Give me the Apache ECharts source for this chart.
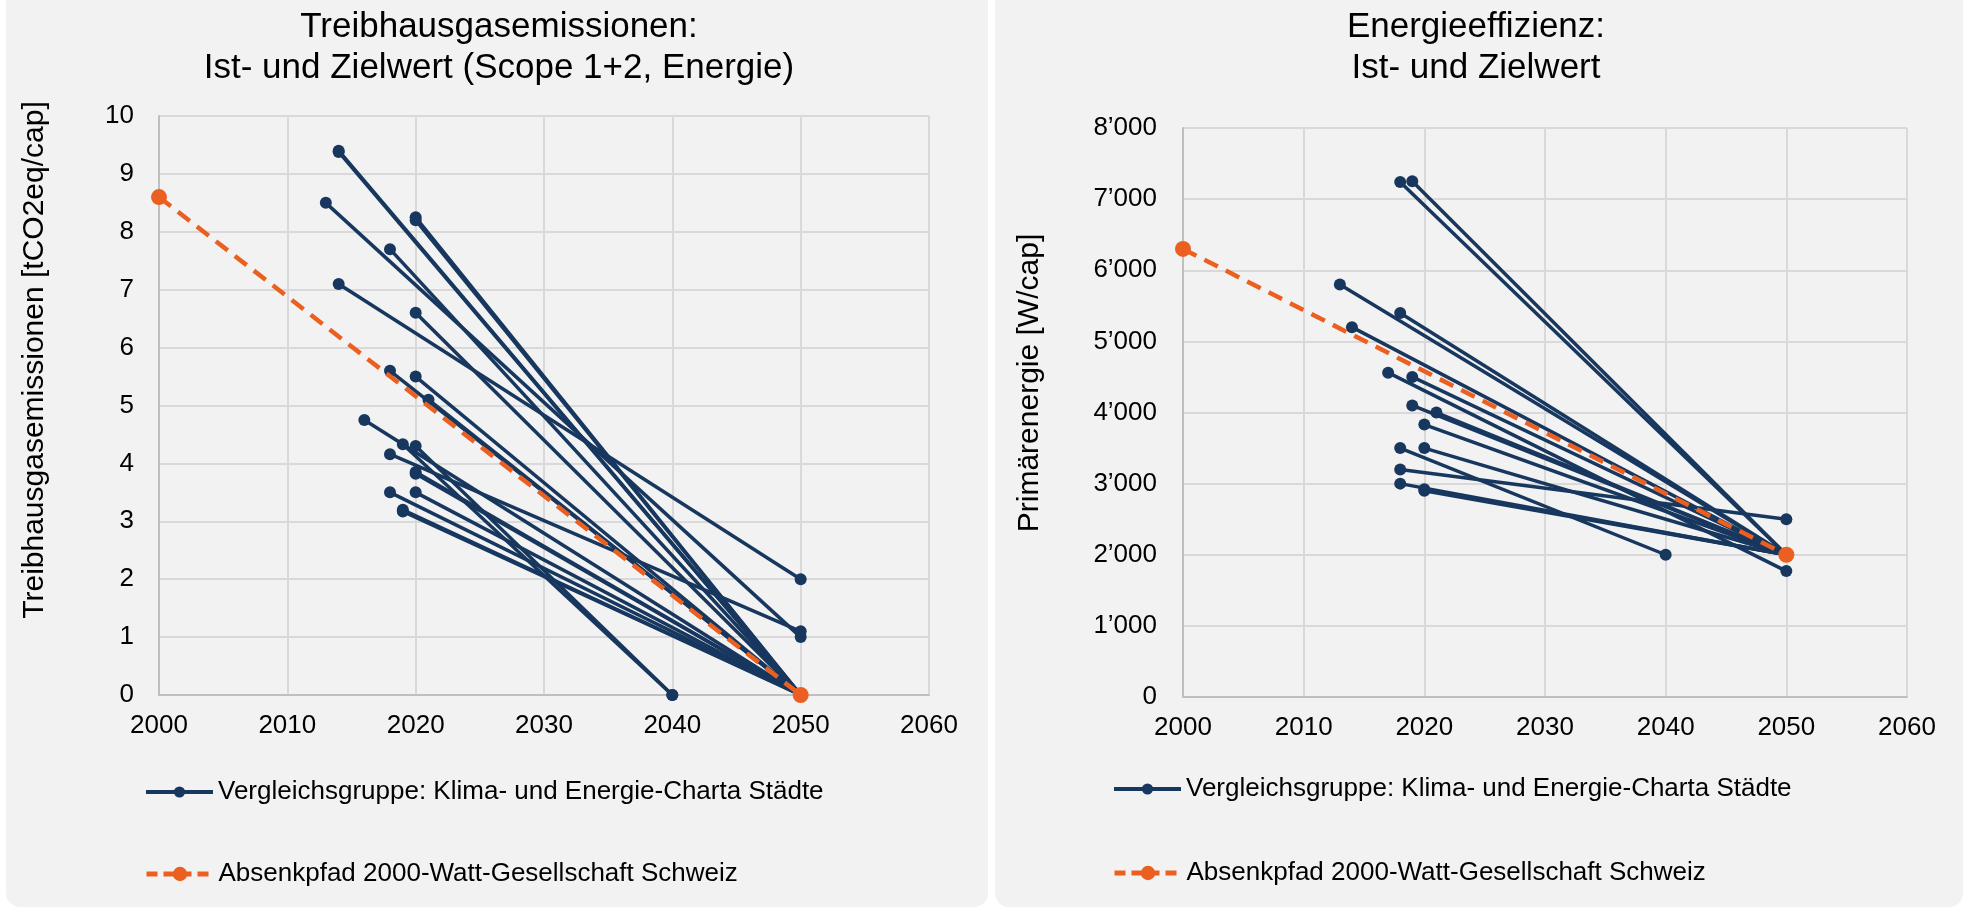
<!DOCTYPE html>
<html><head><meta charset="utf-8">
<script src="https://cdn.jsdelivr.net/npm/echarts@6/dist/echarts.min.js"></script>
<style>html,body{margin:0;padding:0;background:#fff}#c{width:1969px;height:910px}</style>
</head><body><div id="c"></div>
<script>
// ---------- data ----------
const blueName = 'Vergleichsgruppe: Klima- und Energie-Charta Städte';
const orangeName = 'Absenkpfad 2000-Watt-Gesellschaft Schweiz';

const yearTicks = [2000, 2010, 2020, 2030, 2040, 2050, 2060];
const ghgTicks = [0, 1, 2, 3, 4, 5, 6, 7, 8, 9, 10];
const energyTicks = [0, 1000, 2000, 3000, 4000, 5000, 6000, 7000, 8000];
const energyTickLabels = ['0', '1\u2019000', '2\u2019000', '3\u2019000', '4\u2019000', '5\u2019000', '6\u2019000', '7\u2019000', '8\u2019000'];

// Treibhausgasemissionen: Ist-Wert (Jahr, Wert) -> Zielwert (Jahr, Wert)
const ghgStartYear  = [2014, 2014, 2013, 2020, 2020, 2018, 2014, 2020, 2018, 2020, 2021, 2016, 2019, 2020, 2018, 2020, 2020, 2018, 2020, 2019, 2019];
const ghgStartValue = [9.4, 9.38, 8.5, 8.25, 8.2, 7.7, 7.1, 6.6, 5.6, 5.5, 5.1, 4.75, 4.33, 4.3, 4.16, 3.85, 3.82, 3.5, 3.5, 3.2, 3.17];
const ghgEndYear    = [2050, 2050, 2050, 2050, 2050, 2050, 2050, 2050, 2050, 2050, 2050, 2050, 2040, 2040, 2050, 2050, 2050, 2050, 2050, 2050, 2050];
const ghgEndValue   = [0, 0, 1.0, 0, 0, 0, 2.0, 0, 0, 0, 0, 0, 0, 0, 1.1, 0, 0, 0, 0, 0, 0];
const ghgPathYear  = [2000, 2050];
const ghgPathValue = [8.6, 0];

// Energieeffizienz: Ist-Wert -> Zielwert
const enStartYear  = [2018, 2019, 2013, 2018, 2014, 2017, 2019, 2019, 2021, 2020, 2018, 2020, 2018, 2018, 2020, 2020];
const enStartValue = [7240, 7250, 5800, 5400, 5200, 4560, 4500, 4100, 4000, 3830, 3500, 3500, 3200, 3000, 2900, 2920];
const enEndYear    = [2050, 2050, 2050, 2050, 2050, 2050, 2050, 2050, 2050, 2050, 2040, 2050, 2050, 2050, 2050, 2050];
const enEndValue   = [2000, 2000, 2000, 2000, 2000, 1770, 2000, 2000, 2000, 2000, 2000, 2000, 2500, 2000, 2000, 2000];
const enPathYear  = [2000, 2050];
const enPathValue = [6300, 2000];

// ---------- style ----------
const FONT = '"Liberation Sans", Arial, sans-serif';
const BLUE = '#17375f';
const ORANGE = '#eb6020';
const GRID = '#d9d9d9';
const AXIS = '#bfbfbf';

function segSeries(sy, sv, ey, ev, idx) {
  return sy.map((y, i) => ({
    type: 'line', name: blueName, xAxisIndex: idx, yAxisIndex: idx,
    data: [[y, sv[i]], [ey[i], ev[i]]],
    symbol: 'circle', symbolSize: 12, showSymbol: true,
    lineStyle: { color: BLUE, width: 3.5 }, itemStyle: { color: BLUE },
    z: 3, silent: true, animation: false
  }));
}
function pathSeries(px, pv, idx) {
  return {
    type: 'line', name: orangeName, xAxisIndex: idx, yAxisIndex: idx,
    data: px.map((x, i) => [x, pv[i]]),
    symbol: 'circle', symbolSize: 16, showSymbol: true,
    lineStyle: { color: ORANGE, width: 4.5, type: [15, 9] }, itemStyle: { color: ORANGE },
    z: 5, silent: true, animation: false
  };
}
function xAx(gi) {
  return {
    type: 'value', gridIndex: gi,
    min: yearTicks[0], max: yearTicks[yearTicks.length - 1], interval: yearTicks[1] - yearTicks[0],
    axisLine: { show: true, lineStyle: { color: AXIS, width: 2 } },
    axisTick: { show: false },
    splitLine: { show: true, lineStyle: { color: GRID, width: 2 } },
    axisLabel: { fontSize: 26, color: '#000', fontFamily: FONT, margin: 18, formatter: v => String(v) }
  };
}
function yAx(gi, ticks, fmt, margin) {
  return {
    type: 'value', gridIndex: gi,
    min: ticks[0], max: ticks[ticks.length - 1], interval: ticks[1] - ticks[0],
    axisLine: { show: true, onZero: false, lineStyle: { color: AXIS, width: 2 } },
    axisTick: { show: false },
    splitLine: { show: true, lineStyle: { color: GRID, width: 2 } },
    axisLabel: { fontSize: 26, color: '#000', fontFamily: FONT, margin: margin, formatter: fmt }
  };
}
function legendItem(name, left, top, itemHeight, lineStyle) {
  return {
    data: [name], left: left, top: top, padding: 0, orient: 'horizontal',
    itemWidth: 67, itemHeight: itemHeight, selectedMode: false,
    lineStyle: lineStyle,
    textStyle: { fontSize: 26, color: '#000', fontFamily: FONT }
  };
}
const titleStyle = { fontSize: 35, lineHeight: 41, fontWeight: 'normal', color: '#000', fontFamily: FONT };

const chart = echarts.init(document.getElementById('c'), null, { renderer: 'canvas' });
chart.setOption({
  animation: false,
  backgroundColor: '#ffffff',
  title: [
    { text: 'Treibhausgasemissionen:\nIst- und Zielwert (Scope 1+2, Energie)', left: 499, top: 7, padding: 0, textAlign: 'center', textStyle: titleStyle },
    { text: 'Energieeffizienz:\nIst- und Zielwert', left: 1476, top: 7, padding: 0, textAlign: 'center', textStyle: titleStyle }
  ],
  graphic: [
    { type: 'rect', z: -100, shape: { x: 6, y: -20, width: 982, height: 927, r: 14 }, style: { fill: '#f2f2f2' } },
    { type: 'rect', z: -100, shape: { x: 995, y: -20, width: 968, height: 927, r: 14 }, style: { fill: '#f2f2f2' } },
    { type: 'text', z: 10, x: 35, y: 360, rotation: Math.PI / 2,
      style: { text: 'Treibhausgasemissionen [tCO2eq/cap]', fontSize: 30, fontFamily: FONT, fill: '#000', align: 'center', verticalAlign: 'middle' } },
    { type: 'text', z: 10, x: 1030, y: 383, rotation: Math.PI / 2,
      style: { text: 'Primärenergie [W/cap]', fontSize: 30, fontFamily: FONT, fill: '#000', align: 'center', verticalAlign: 'middle' } }
  ],
  legend: [
    legendItem(blueName, 144, 779, 14, { width: 4 }),
    legendItem(orangeName, 144, 861, 18, { width: 5, type: [11, 6] }),
    legendItem(blueName, 1112, 776, 14, { width: 4 }),
    legendItem(orangeName, 1112, 860, 18, { width: 5, type: [11, 6] })
  ],
  grid: [
    { left: 159, top: 116, width: 770, height: 579 },
    { left: 1183, top: 128, width: 724, height: 569 }
  ],
  xAxis: [xAx(0), xAx(1)],
  yAxis: [
    yAx(0, ghgTicks, v => String(v), 25),
    yAx(1, energyTicks, v => energyTickLabels[energyTicks.indexOf(v)] || String(v), 26)
  ],
  series: [].concat(
    segSeries(ghgStartYear, ghgStartValue, ghgEndYear, ghgEndValue, 0),
    [pathSeries(ghgPathYear, ghgPathValue, 0)],
    segSeries(enStartYear, enStartValue, enEndYear, enEndValue, 1),
    [pathSeries(enPathYear, enPathValue, 1)]
  )
});
</script>
</body></html>
